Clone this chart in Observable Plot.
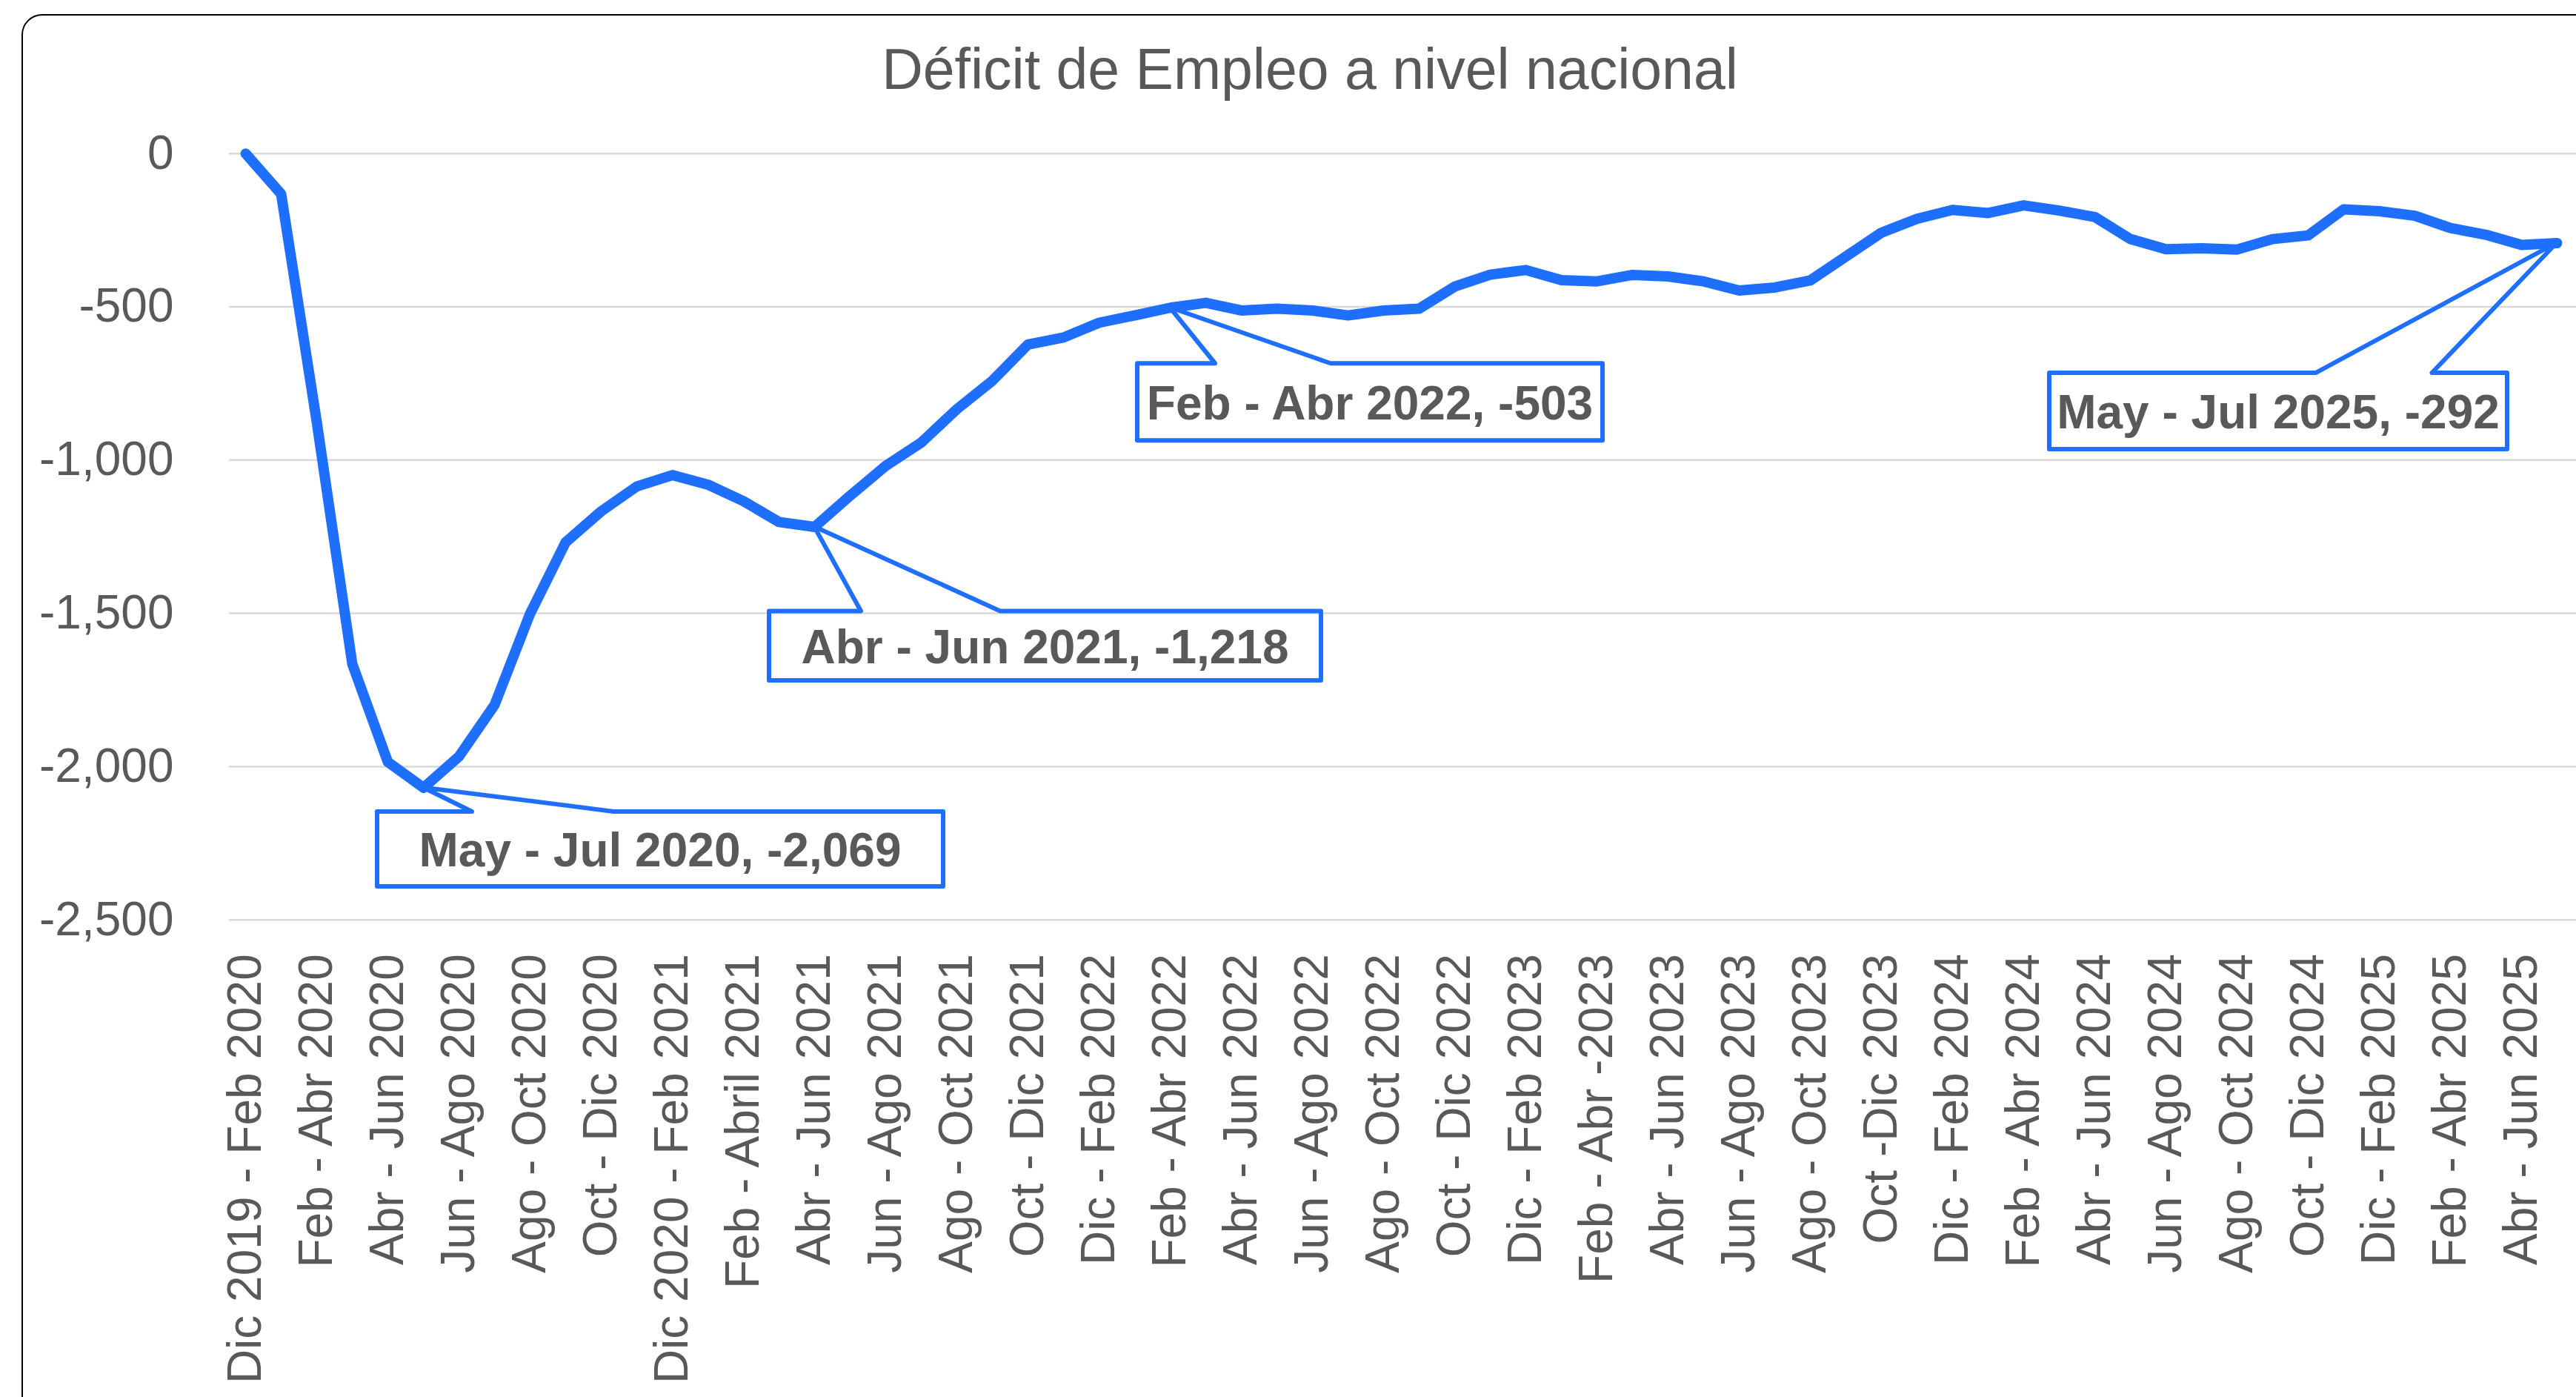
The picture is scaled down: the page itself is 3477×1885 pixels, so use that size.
<!DOCTYPE html>
<html><head><meta charset="utf-8">
<script src="https://cdn.jsdelivr.net/npm/d3@7"></script>
<script src="https://cdn.jsdelivr.net/npm/@observablehq/plot@0.6"></script>
<style>
html,body{margin:0;padding:0;background:#fff;}
#wrap{position:relative;width:3477px;height:1885px;overflow:hidden;background:#fff;font-family:"Liberation Sans",Arial,sans-serif;}
#frame{position:absolute;left:29px;top:19px;width:3600px;height:2000px;border:2.5px solid #000;border-top-left-radius:28px;box-sizing:border-box;}
#title{position:absolute;left:1768px;top:55px;transform:translateX(-50%);font-size:77px;line-height:1;color:#595959;white-space:nowrap;}
#chart{position:absolute;left:0;top:0;}
</style></head>
<body>
<div id="wrap"><div id="frame"></div><div id="title">Déficit de Empleo a nivel nacional</div><div id="chart"></div></div>
<script>
// ---- data ----
const categories = [
  "Dic 2019 - Feb 2020","Ene - Mar 2020","Feb - Abr 2020","Mar - May 2020","Abr - Jun 2020","May - Jul 2020",
  "Jun - Ago 2020","Jul - Sep 2020","Ago - Oct 2020","Sep - Nov 2020","Oct - Dic 2020","Nov 2020 - Ene 2021",
  "Dic 2020 - Feb 2021","Ene - Mar 2021","Feb - Abril 2021","Mar - May 2021","Abr - Jun 2021","May - Jul 2021",
  "Jun - Ago 2021","Jul - Sep 2021","Ago - Oct 2021","Sep - Nov 2021","Oct - Dic 2021","Nov 2021 - Ene 2022",
  "Dic - Feb 2022","Ene - Mar 2022","Feb - Abr 2022","Mar - May 2022","Abr - Jun 2022","May - Jul 2022",
  "Jun - Ago 2022","Jul - Sep 2022","Ago - Oct 2022","Sep - Nov 2022","Oct - Dic 2022","Nov 2022 - Ene 2023",
  "Dic - Feb 2023","Ene - Mar 2023","Feb - Abr -2023","Mar - May 2023","Abr - Jun 2023","May - Jul 2023",
  "Jun - Ago 2023","Jul - Sep 2023","Ago - Oct 2023","Sep - Nov 2023","Oct -Dic 2023","Nov 2023 - Ene 2024",
  "Dic - Feb 2024","Ene - Mar 2024","Feb - Abr 2024","Mar - May 2024","Abr - Jun 2024","May - Jul 2024",
  "Jun - Ago 2024","Jul - Sep 2024","Ago - Oct 2024","Sep - Nov 2024","Oct - Dic 2024","Nov 2024 - Ene 2025",
  "Dic - Feb 2025","Ene - Mar 2025","Feb - Abr 2025","Mar - May 2025","Abr - Jun 2025","May - Jul 2025"
];
const values = [
  0, -132, -875, -1665, -1985, -2069,
  -1967, -1799, -1501, -1268, -1167, -1086,
  -1049, -1080, -1134, -1202, -1218, -1116,
  -1019, -943, -834, -741, -623, -600,
  -552, -528, -503, -487, -512, -506,
  -512, -528, -512, -506, -434, -395,
  -380, -413, -417, -396, -401, -417,
  -447, -437, -414, -336, -258, -213,
  -184, -194, -169, -186, -207, -279,
  -312, -309, -313, -279, -267, -182,
  -188, -203, -243, -265, -298, -292
];
const tickLabels = categories.filter((d, i) => i % 2 === 0);
const yTicks = [0, -500, -1000, -1500, -2000, -2500];
const calloutCategories = ["May - Jul 2020", "Abr - Jun 2021", "Feb - Abr 2022", "May - Jul 2025"];

// ---- layout (pixel offsets of callout boxes relative to their point) ----
const calloutLayout = [
  {left: -62, top: 32.5, w: 764, h: 101, b1: 66, b2: 257},
  {left: -61, top: 114, w: 745, h: 93.5, b1: 63, b2: 251},
  {left: -44, top: 75.5, w: 628, h: 104, b1: 61, b2: 217},
  {left: -685, top: 175.5, w: 618, h: 103, b1: -325, b2: -168.5}
];

const BLUE = "#1F6FFF";
const GREY = "#595959";
const FONT = "'Liberation Sans', Arial, sans-serif";
const fmt = d => d.toLocaleString("en-US");

const data = categories.map((c, i) => ({category: c, value: values[i]}));
const calloutData = calloutCategories.map(c => ({category: c, value: values[categories.indexOf(c)]}));

function callouts(index, scales) {
  const g = d3.create("svg:g");
  calloutData.forEach((c, k) => {
    const L = calloutLayout[k];
    const px = scales.x(c.category), py = scales.y(c.value);
    const x0 = px + L.left, y0 = py + L.top, x1 = x0 + L.w, y1 = y0 + L.h;
    g.append("path")
      .attr("d", `M${px + L.b2},${y0}L${x1},${y0}L${x1},${y1}L${x0},${y1}L${x0},${y0}L${px + L.b1},${y0}L${px},${py}Z`)
      .attr("fill", "none").attr("stroke", BLUE).attr("stroke-width", 6).attr("stroke-linejoin", "round");
    g.append("text")
      .attr("x", (x0 + x1) / 2).attr("y", (y0 + y1) / 2 + 24)
      .attr("text-anchor", "middle")
      .attr("font-family", FONT).attr("font-weight", "bold").attr("font-size", 64)
      .attr("fill", GREY)
      .text(`${c.category}, ${fmt(c.value)}`);
  });
  return g.node();
}

const plot = Plot.plot({
  width: 3477,
  height: 1885,
  marginLeft: 309,
  marginRight: 0,
  marginTop: 206.7,
  marginBottom: 644.3,
  style: {fontFamily: FONT, background: "transparent", overflow: "visible"},
  x: {type: "point", domain: categories, range: [329, 3452], padding: 0},
  y: {domain: [-2500, 0]},
  marks: [
    Plot.gridY(yTicks, {stroke: "#D9D9D9", strokeOpacity: 1, strokeWidth: 2.5}),
    Plot.axisY(yTicks, {tickSize: 0, tickPadding: 75, tickFormat: fmt, fontSize: 64, fill: GREY, label: null}),
    Plot.axisX(tickLabels, {tickRotate: -90, tickSize: 0, tickPadding: 46, fontSize: 64, fill: GREY, label: null}),
    Plot.line(data, {x: "category", y: "value", stroke: BLUE, strokeWidth: 14, strokeLinejoin: "round", strokeLinecap: "round"}),
    callouts
  ]
});
document.getElementById("chart").appendChild(plot);
</script>
</body></html>
